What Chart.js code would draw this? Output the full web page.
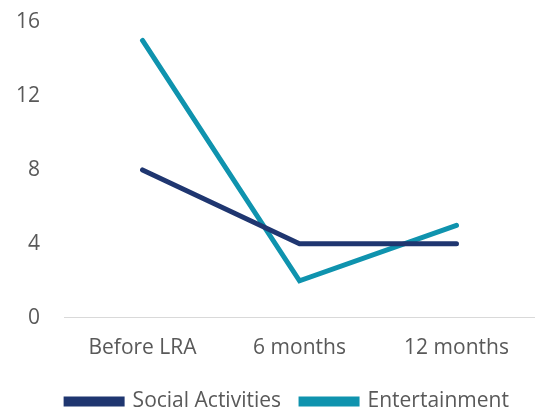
<!DOCTYPE html>
<html>
<head>
<meta charset="utf-8">
<script src="https://cdn.jsdelivr.net/npm/chart.js@4.4.0/dist/chart.umd.min.js"></script>
<style>
  html, body { margin: 0; padding: 0; background: #fff; }
  #wrap { width: 535px; height: 410px; }
</style>
</head>
<body>
<div id="wrap"><canvas id="myChart"></canvas></div>
<script>
// line chart data
var periods = ["Before LRA", "6 months", "12 months"];
var socialActivities = [8, 4, 4];
var entertainment = [15, 2, 5];
var yTicks = [0, 4, 8, 12, 16];

var navy = "#1f3670";
var teal = "#0f93ae";
var fontFamily = "'Open Sans'";

// nudge the legend a bit right, like the original
var legendShift = {
  id: "legendShift",
  afterLayout: function (chart) {
    chart.legend.left += 20;
    chart.legend.right += 20;
  }
};

new Chart("myChart", {
  type: "line",
  data: {
    labels: periods,
    datasets: [{
      label: "Social Activities",
      data: socialActivities,
      borderColor: navy,
      backgroundColor: navy,
      borderWidth: 5,
      borderCapStyle: "round",
      pointRadius: 0,
      tension: 0
    }, {
      label: "Entertainment",
      data: entertainment,
      borderColor: teal,
      backgroundColor: teal,
      borderWidth: 5,
      borderCapStyle: "round",
      pointRadius: 0,
      tension: 0
    }]
  },
  options: {
    responsive: true,
    maintainAspectRatio: false,
    animation: false,
    layout: { padding: { left: 0, right: 0, top: 22, bottom: -12 } },
    plugins: {
      tooltip: { enabled: false },
      legend: {
        position: "bottom",
        labels: {
          boxWidth: 56,
          boxHeight: 5,
          padding: 20,
          color: "#595959",
          font: { family: fontFamily, size: 21 }
        }
      }
    },
    scales: {
      x: {
        offset: true,
        grid: { display: false },
        border: { display: true, color: "#d9d9d9", width: 1 },
        ticks: { color: "#595959", padding: 10, font: { family: fontFamily, size: 21 } }
      },
      y: {
        min: 0,
        max: 16,
        afterBuildTicks: function (axis) {
          axis.ticks = yTicks.map(function (v) { return { value: v }; });
        },
        afterFit: function (axis) {
          axis.paddingTop = 0;
        },
        grid: { display: false },
        border: { display: false },
        ticks: { color: "#595959", padding: 16, font: { family: fontFamily, size: 21 } }
      }
    }
  },
  plugins: [legendShift]
});//End of Line Chart
</script>
</body>
</html>
